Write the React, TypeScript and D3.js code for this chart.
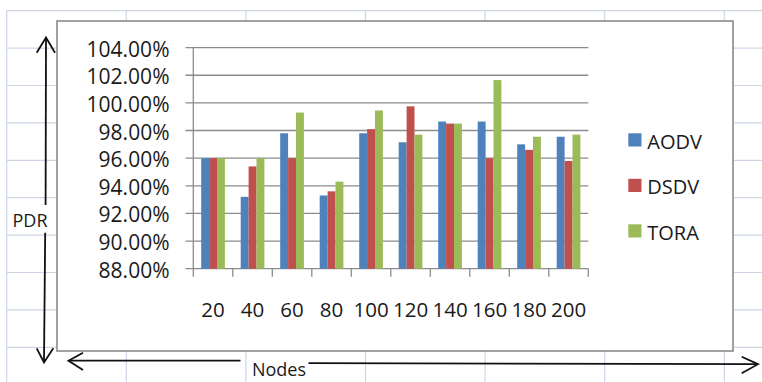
import React from "react";
import * as d3 from "d3";

// Packet delivery ratio (%) per routing protocol, by number of nodes
const nodes = ["20", "40", "60", "80", "100", "120", "140", "160", "180", "200"];
const aodv = [96.0, 93.2, 97.8, 93.3, 97.8, 97.15, 98.65, 98.65, 97.0, 97.55];
const dsdv = [96.0, 95.4, 96.0, 93.6, 98.1, 99.75, 98.5, 96.0, 96.6, 95.8];
const tora = [96.0, 96.0, 99.3, 94.3, 99.45, 97.7, 98.5, 101.65, 97.55, 97.7];
const seriesNames = ["AODV", "DSDV", "TORA"];
const yTicks = [88, 90, 92, 94, 96, 98, 100, 102, 104];

const colors: Record<string, string> = {
  AODV: "#4F81BD",
  DSDV: "#C0504D",
  TORA: "#9BBB59",
};

const W = 762;
const H = 382;
const FONT = "'Open Sans', 'Noto Sans', sans-serif";
const TEXT = "#1a1a1a";

export default function App() {
  const values: Record<string, number[]> = { AODV: aodv, DSDV: dsdv, TORA: tora };

  const x = d3.scaleBand<string>().domain(nodes).range([193.3, 588.3]).padding(0);
  const xs = d3
    .scaleBand<string>()
    .domain(seriesNames)
    .range([0, x.bandwidth()])
    .paddingInner(0)
    .paddingOuter(1);
  const y = d3.scaleLinear().domain([88, 104]).range([268.7, 47.6]);
  const fmt = (v: number) => d3.format(".2f")(v) + "%";

  // spreadsheet cells behind the chart
  const rowLines = d3.range(10).map((i) => 10.7 + i * 37.4);
  const colLines = d3.range(7).map((i) => 6.7 + i * 119.6);

  const boundaries = [...nodes.map((n) => x(n)!), x.range()[1]];

  return (
    <svg
      width={W}
      height={H}
      style={{ position: "absolute", left: 0, top: 0, background: "#fff" }}
    >
      {/* sheet grid */}
      <g stroke="#cdd5e6" strokeWidth={1.2}>
        {rowLines.map((ry, i) => (
          <line key={"r" + i} x1={6.7} x2={W} y1={ry} y2={ry} />
        ))}
        {colLines.map((cx, i) => (
          <line key={"c" + i} x1={cx} x2={cx} y1={10.7} y2={H} />
        ))}
      </g>

      {/* chart area */}
      <rect x={57} y={21} width={676} height={330} fill="#fff" stroke="#8a8a8a" strokeWidth={1.6} />

      {/* horizontal gridlines, value axis and category ticks */}
      <g stroke="#8c8c8c" strokeWidth={1.3}>
        {yTicks.map((t) => (
          <line key={t} x1={185.5} x2={588.3} y1={y(t)} y2={y(t)} />
        ))}
        <line x1={193.3} x2={193.3} y1={y(104)} y2={y(88)} />
        {boundaries.map((bx, i) => (
          <line key={"t" + i} x1={bx} x2={bx} y1={y(88)} y2={y(88) + 8} />
        ))}
      </g>

      {/* bars */}
      {nodes.map((n, i) => (
        <g key={n} transform={`translate(${x(n)},0)`}>
          {seriesNames.map((s) => (
            <rect
              key={s}
              x={xs(s)}
              y={y(values[s][i])}
              width={xs.bandwidth()}
              height={y(88) - y(values[s][i])}
              fill={colors[s]}
            />
          ))}
        </g>
      ))}

      {/* y tick labels */}
      <g fontFamily={FONT} fontSize={21} fill={TEXT} textAnchor="end">
        {yTicks.map((t) => (
          <text key={t} x={169.5} y={y(t) + 1} dominantBaseline="central">
            {fmt(t)}
          </text>
        ))}
      </g>

      {/* x tick labels */}
      <g fontFamily={FONT} fontSize={20.5} fill={TEXT} textAnchor="middle">
        {nodes.map((n) => (
          <text key={n} x={x(n)! + x.bandwidth() / 2} y={309} dominantBaseline="central">
            {n}
          </text>
        ))}
      </g>

      {/* legend */}
      <g fontFamily={FONT} fontSize={20} fill={TEXT}>
        {seriesNames.map((s, i) => (
          <g key={s} transform={`translate(628.3,${140 + i * 45.5})`}>
            <rect x={0} y={-6.7} width={13.2} height={13.2} fill={colors[s]} />
            <text x={19} y={1} dominantBaseline="central">
              {s}
            </text>
          </g>
        ))}
      </g>

      {/* PDR axis arrow */}
      <g stroke="#111" strokeWidth={1.8} fill="none">
        <line x1={46} y1={38} x2={45.6} y2={205} />
        <line x1={45.2} y1={232.7} x2={44} y2={362} />
        <polyline points="36.7,52.7 46,37.5 55,52.7" />
        <polyline points="36.7,348.3 44,362.5 53.3,348.3" />
      </g>
      <text
        x={30}
        y={219.5}
        fontFamily={FONT}
        fontSize={18}
        fill={TEXT}
        textAnchor="middle"
        dominantBaseline="central"
      >
        PDR
      </text>

      {/* Nodes axis arrow */}
      <g stroke="#111" strokeWidth={1.8} fill="none">
        <line x1={68.5} y1={360.7} x2={240.5} y2={360.7} />
        <line x1={308.5} y1={363.2} x2={757.5} y2={364.2} />
        <polyline points="83,352.7 68.5,360.7 83,370" />
        <polyline points="741.7,356.7 758,364.2 741.7,373.3" />
      </g>
      <text
        x={279}
        y={369}
        fontFamily={FONT}
        fontSize={18}
        fill={TEXT}
        textAnchor="middle"
        dominantBaseline="central"
      >
        Nodes
      </text>
    </svg>
  );
}
